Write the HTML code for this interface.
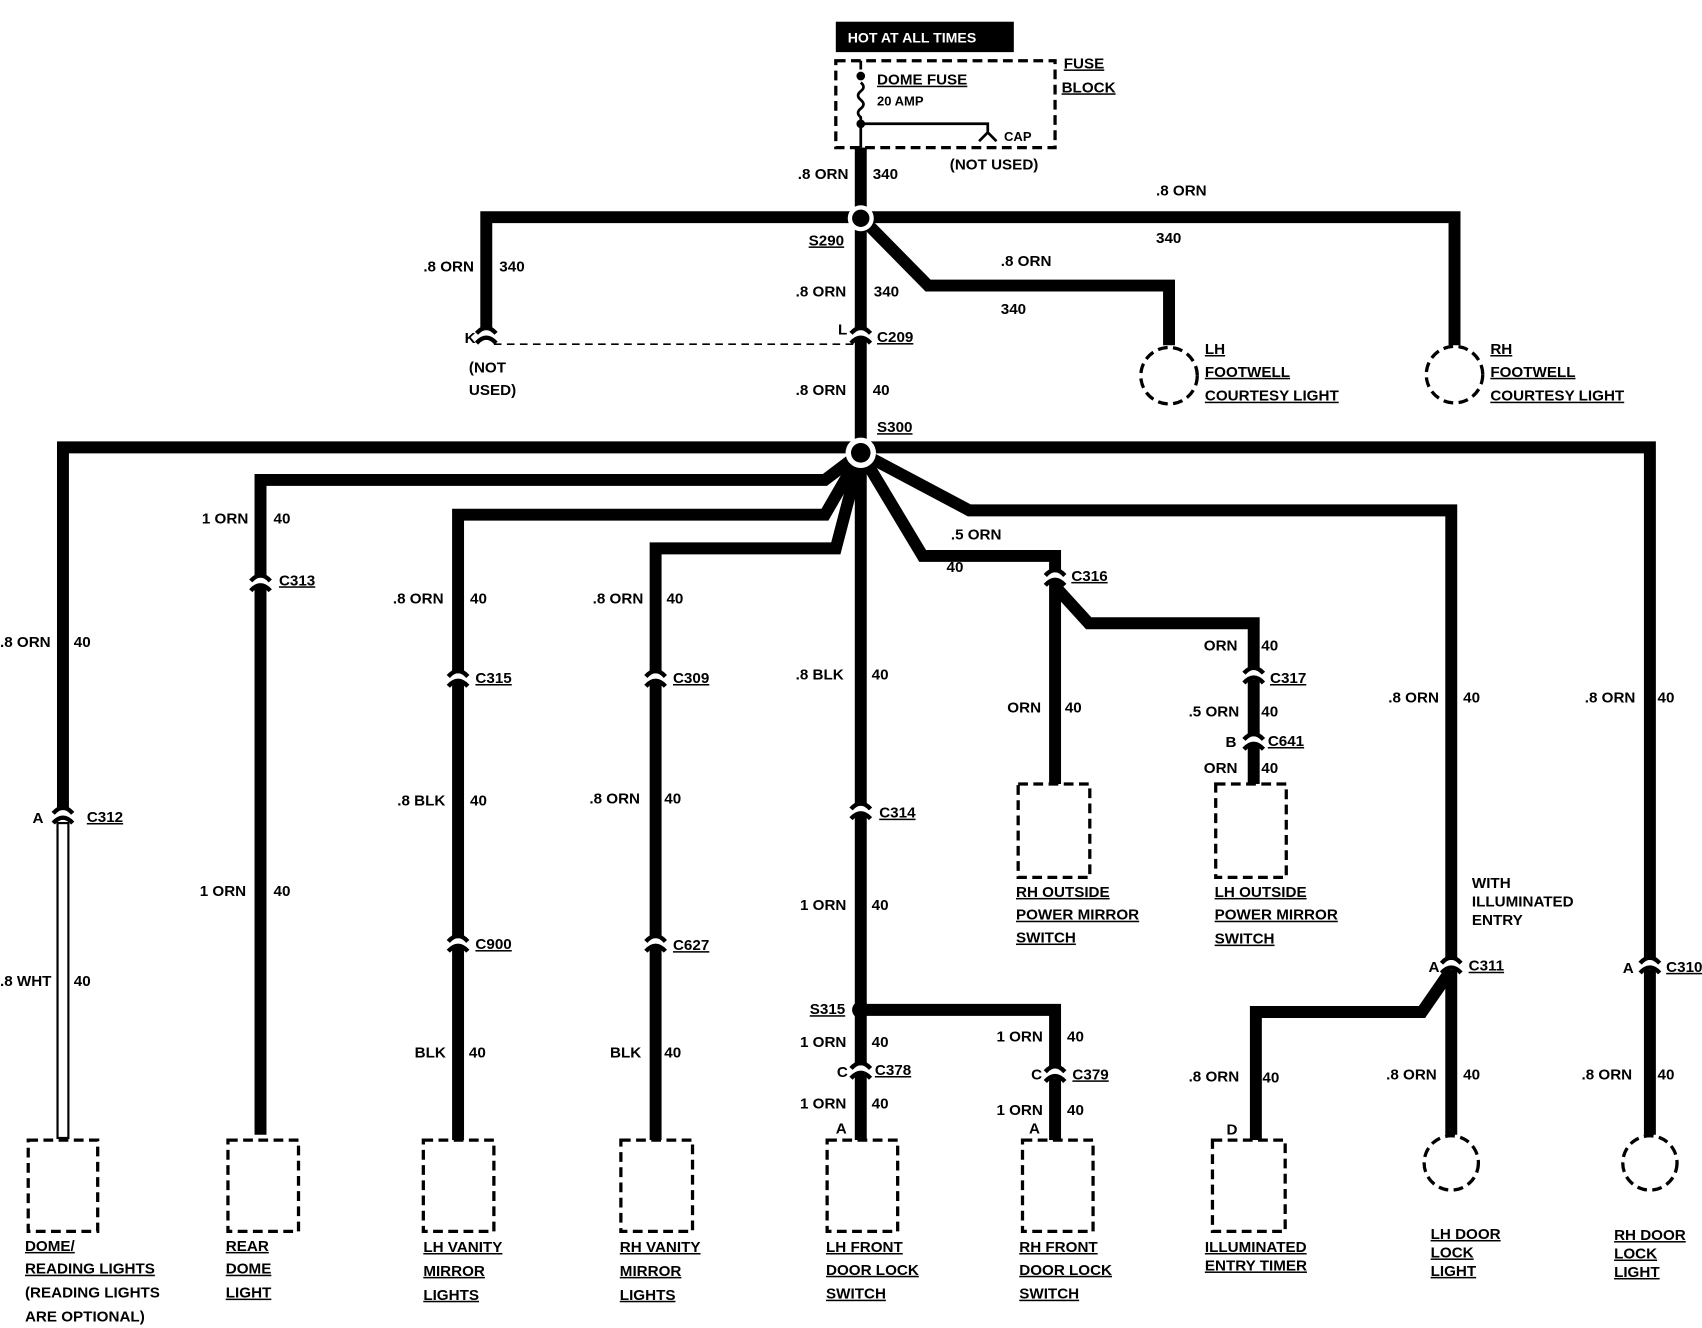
<!DOCTYPE html>
<html><head><meta charset="utf-8"><style>
html,body{margin:0;padding:0;background:#fff;}
svg{display:block}
text{font-family:"Liberation Sans Narrow","Liberation Sans",sans-serif;font-weight:bold;font-size:14px;fill:#000}
.u{text-decoration:underline}
</style></head><body>
<svg width="1702" height="1328" viewBox="0 0 1568 1223" preserveAspectRatio="none" xmlns="http://www.w3.org/2000/svg">
<defs>
<g id="cn"><rect x="-8" y="-6" width="16" height="9" fill="#fff"/>
<path d="M-9 -3 Q0 -13 9 -3" fill="none" stroke="#000" stroke-width="4"/>
<path d="M-9 6 Q0 -4 9 6" fill="none" stroke="#000" stroke-width="4"/></g>
</defs>
<!-- fuse block -->
<rect x="770" y="20" width="164" height="28" fill="#000"/>
<text x="781" y="39" style="fill:#fff;font-size:13px">HOT AT ALL TIMES</text>
<rect x="770" y="56" width="202" height="80" fill="none" stroke="#000" stroke-width="3" stroke-dasharray="9,5"/>
<path d="M793 56 V64 M793 76 q5 4 0 8 q-5 4 0 8 q5 4 0 8 q-5 4 0 8 V136 M793 114 H910 V122 M902 130 L910 122 L918 130" fill="none" stroke="#000" stroke-width="2.5"/>
<circle cx="793" cy="70" r="4"/><circle cx="793" cy="114" r="4"/>
<text x="808" y="78" class="u">DOME FUSE</text><text x="808" y="97" style="font-size:12px">20 AMP</text>
<text x="980" y="63" class="u">FUSE</text><text x="978" y="85" class="u">BLOCK</text>
<text x="925" y="130" style="font-size:12px">CAP</text><text x="875" y="156">(NOT USED)</text>
<g fill="none" stroke="#000" stroke-width="11">
<path d="M793 136 V1050"/>
<path d="M448 305 V200 H1340 V318"/>
<path d="M793 200 L855 263 H1077 V318"/>
<path d="M58 750 V412 H1520 V1045"/>
<path d="M240 1045 V442 H760 L793 417"/>
<path d="M422 1050 V474 H760 L793 417"/>
<path d="M604 1050 V505 H770 L793 417"/>
<path d="M793 417 L850 512 H972 V722"/>
<path d="M972 540 L1003 574 H1155 V722"/>
<path d="M793 417 L893 470 H1337 V1045"/>
<path d="M793 930 H972 V1050"/>
<path d="M1337 893 L1310 932 H1157 V1050"/>
</g>
<rect x="53" y="758" width="10" height="290" fill="#fff" stroke="#000" stroke-width="2"/>
<path d="M455 317 H790" stroke="#000" stroke-width="1.5" stroke-dasharray="7,5"/>
<circle cx="793" cy="201" r="12" fill="#fff"/><circle cx="793" cy="201" r="8"/>
<circle cx="793" cy="417" r="14" fill="#fff"/><circle cx="793" cy="417" r="9"/>
<circle cx="793" cy="930" r="8"/>
<!-- connectors -->
<use href="#cn" x="448" y="310"/><use href="#cn" x="793" y="310"/>
<use href="#cn" x="58" y="752"/><use href="#cn" x="240" y="538"/>
<use href="#cn" x="422" y="626"/><use href="#cn" x="422" y="870"/>
<use href="#cn" x="604" y="626"/><use href="#cn" x="604" y="870"/>
<use href="#cn" x="793" y="748"/><use href="#cn" x="793" y="987"/>
<use href="#cn" x="972" y="533"/><use href="#cn" x="972" y="990"/>
<use href="#cn" x="1155" y="623"/><use href="#cn" x="1155" y="684"/>
<use href="#cn" x="1337" y="890"/><use href="#cn" x="1520" y="890"/>
<!-- boxes -->
<g fill="#fff" stroke="#000" stroke-width="3" stroke-dasharray="9,5">
<rect x="26" y="1050" width="64" height="84"/><rect x="210" y="1050" width="65" height="84"/>
<rect x="390" y="1050" width="65" height="84"/><rect x="572" y="1050" width="66" height="84"/>
<rect x="762" y="1050" width="65" height="84"/><rect x="942" y="1050" width="65" height="84"/>
<rect x="1117" y="1050" width="67" height="84"/>
<rect x="938" y="722" width="66" height="86"/><rect x="1120" y="722" width="65" height="86"/>
<circle cx="1077" cy="346" r="26"/><circle cx="1340" cy="345" r="26"/>
<circle cx="1337" cy="1071" r="25"/><circle cx="1520" cy="1071" r="25"/>
</g>
<g>
<text x="735" y="165">.8 ORN</text><text x="804" y="165">340</text>
<text x="1065" y="180">.8 ORN</text><text x="1065" y="224">340</text>
<text x="745" y="226" class="u">S290</text>
<text x="922" y="245">.8 ORN</text><text x="922" y="289">340</text>
<text x="390" y="250">.8 ORN</text><text x="460" y="250">340</text>
<text x="733" y="273">.8 ORN</text><text x="805" y="273">340</text>
<text x="428" y="316">K</text><text x="432" y="343">(NOT</text><text x="432" y="364">USED)</text>
<text x="772" y="308">L</text><text x="808" y="315" class="u">C209</text>
<text x="733" y="364">.8 ORN</text><text x="804" y="364">40</text>
<text x="808" y="398" class="u">S300</text>
<text x="1110" y="326" class="u">LH</text><text x="1110" y="347" class="u">FOOTWELL</text><text x="1110" y="369" class="u">COURTESY LIGHT</text>
<text x="1373" y="326" class="u">RH</text><text x="1373" y="347" class="u">FOOTWELL</text><text x="1373" y="369" class="u">COURTESY LIGHT</text>
<text x="186" y="482">1 ORN</text><text x="252" y="482">40</text><text x="257" y="539" class="u">C313</text>
<text x="0" y="596">.8 ORN</text><text x="68" y="596">40</text>
<text x="30" y="758">A</text><text x="80" y="757" class="u">C312</text>
<text x="0" y="908">.8 WHT</text><text x="68" y="908">40</text>
<text x="184" y="825">1 ORN</text><text x="252" y="825">40</text>
<text x="362" y="556">.8 ORN</text><text x="433" y="556">40</text><text x="438" y="629" class="u">C315</text>
<text x="366" y="742">.8 BLK</text><text x="433" y="742">40</text><text x="438" y="874" class="u">C900</text>
<text x="382" y="974">BLK</text><text x="432" y="974">40</text>
<text x="546" y="556">.8 ORN</text><text x="614" y="556">40</text><text x="620" y="629" class="u">C309</text>
<text x="543" y="740">.8 ORN</text><text x="612" y="740">40</text><text x="620" y="875" class="u">C627</text>
<text x="562" y="974">BLK</text><text x="612" y="974">40</text>
<text x="733" y="626">.8 BLK</text><text x="803" y="626">40</text><text x="810" y="753" class="u">C314</text>
<text x="737" y="838">1 ORN</text><text x="803" y="838">40</text>
<text x="746" y="934" class="u">S315</text>
<text x="737" y="964">1 ORN</text><text x="803" y="964">40</text>
<text x="771" y="992">C</text><text x="806" y="990" class="u">C378</text>
<text x="737" y="1021">1 ORN</text><text x="803" y="1021">40</text><text x="770" y="1044">A</text>
<text x="876" y="497">.5 ORN</text><text x="872" y="527">40</text><text x="987" y="535" class="u">C316</text>
<text x="928" y="656">ORN</text><text x="981" y="656">40</text>
<text x="1109" y="599">ORN</text><text x="1162" y="599">40</text><text x="1170" y="629" class="u">C317</text>
<text x="1095" y="660">.5 ORN</text><text x="1162" y="660">40</text>
<text x="1129" y="688">B</text><text x="1168" y="687" class="u">C641</text>
<text x="1109" y="712">ORN</text><text x="1162" y="712">40</text>
<text x="936" y="826" class="u">RH OUTSIDE</text><text x="936" y="847" class="u">POWER MIRROR</text><text x="936" y="868" class="u">SWITCH</text>
<text x="1119" y="826" class="u">LH OUTSIDE</text><text x="1119" y="847" class="u">POWER MIRROR</text><text x="1119" y="869" class="u">SWITCH</text>
<text x="918" y="959">1 ORN</text><text x="983" y="959">40</text>
<text x="950" y="994">C</text><text x="988" y="994" class="u">C379</text>
<text x="918" y="1027">1 ORN</text><text x="983" y="1027">40</text><text x="948" y="1044">A</text>
<text x="1279" y="647">.8 ORN</text><text x="1348" y="647">40</text>
<text x="1356" y="818">WITH</text><text x="1356" y="835">ILLUMINATED</text><text x="1356" y="852">ENTRY</text>
<text x="1316" y="895">A</text><text x="1353" y="894" class="u">C311</text>
<text x="1095" y="996">.8 ORN</text><text x="1163" y="997">40</text><text x="1130" y="1045">D</text>
<text x="1277" y="994">.8 ORN</text><text x="1348" y="994">40</text>
<text x="1460" y="647">.8 ORN</text><text x="1527" y="647">40</text>
<text x="1495" y="896">A</text><text x="1535" y="895" class="u">C310</text>
<text x="1457" y="994">.8 ORN</text><text x="1527" y="994">40</text>
<text x="23" y="1152" class="u">DOME/</text><text x="23" y="1173" class="u">READING LIGHTS</text><text x="23" y="1195">(READING LIGHTS</text><text x="23" y="1217">ARE OPTIONAL)</text>
<text x="208" y="1152" class="u">REAR</text><text x="208" y="1173" class="u">DOME</text><text x="208" y="1195" class="u">LIGHT</text>
<text x="390" y="1153" class="u">LH VANITY</text><text x="390" y="1175" class="u">MIRROR</text><text x="390" y="1197" class="u">LIGHTS</text>
<text x="571" y="1153" class="u">RH VANITY</text><text x="571" y="1175" class="u">MIRROR</text><text x="571" y="1197" class="u">LIGHTS</text>
<text x="761" y="1153" class="u">LH FRONT</text><text x="761" y="1174" class="u">DOOR LOCK</text><text x="761" y="1196" class="u">SWITCH</text>
<text x="939" y="1153" class="u">RH FRONT</text><text x="939" y="1174" class="u">DOOR LOCK</text><text x="939" y="1196" class="u">SWITCH</text>
<text x="1110" y="1153" class="u">ILLUMINATED</text><text x="1110" y="1170" class="u">ENTRY TIMER</text>
<text x="1318" y="1141" class="u">LH DOOR</text><text x="1318" y="1158" class="u">LOCK</text><text x="1318" y="1175" class="u">LIGHT</text>
<text x="1487" y="1142" class="u">RH DOOR</text><text x="1487" y="1159" class="u">LOCK</text><text x="1487" y="1176" class="u">LIGHT</text>
</g>
</svg>
</body></html>
